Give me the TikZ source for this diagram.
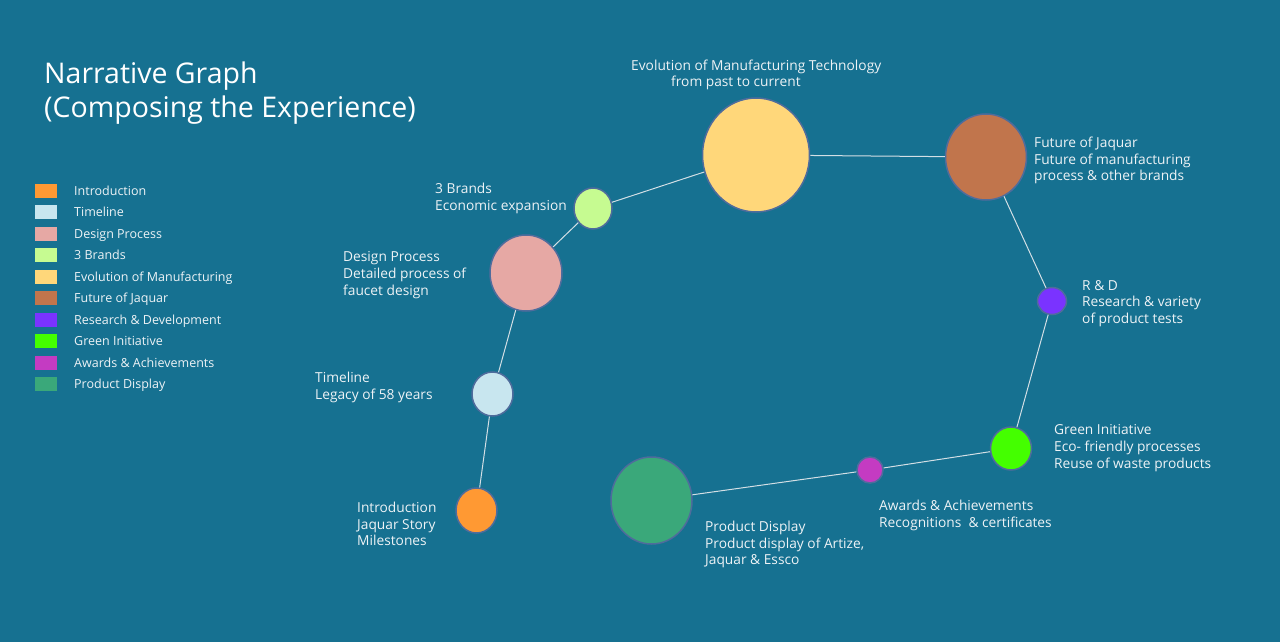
\documentclass[tikz,border=0pt]{standalone}
\usepackage{fontspec}
\setmainfont{Open Sans}
\usetikzlibrary{shapes.geometric}
\definecolor{bgc}{HTML}{167191}
\definecolor{txtc}{HTML}{EEF3F6}
\definecolor{edgec}{HTML}{D3DFE5}
\definecolor{rimc}{HTML}{4F6C9C}
\definecolor{cIntro}{HTML}{FF9933}
\definecolor{cTime}{HTML}{C8E6EF}
\definecolor{cDesign}{HTML}{E6A8A4}
\definecolor{cBrands}{HTML}{C6FB91}
\definecolor{cEvol}{HTML}{FFD77A}
\definecolor{cFuture}{HTML}{C1754C}
\definecolor{cRD}{HTML}{7A33FF}
\definecolor{cGreen}{HTML}{44FF00}
\definecolor{cAwards}{HTML}{C43BC2}
\definecolor{cProd}{HTML}{3AA87A}
\tikzset{
  bubble/.style={ellipse, draw=rimc, line width=1.5pt, inner sep=0pt},
  lbl/.style={anchor=west, inner sep=0pt, align=left, text=txtc, font=\fontsize{13.75}{16.7}\selectfont},
  legtxt/.style={anchor=base west, inner sep=0pt, text=txtc, font=\fontsize{12.5}{15}\selectfont},
  legbox/.style={rectangle, inner sep=0pt, minimum width=22pt, minimum height=14pt},
  link/.style={draw=edgec, line width=1pt}
}
\begin{document}
\begin{tikzpicture}[x=1pt,y=-1pt]
\fill[bgc] (0,0) rectangle (1280,642);
\useasboundingbox (0,0) rectangle (1280,642);
% title
\node[anchor=north west, inner sep=0pt, align=left, text=white, font=\fontsize{28.5}{34}\selectfont] (title) at (44,62) {Narrative Graph\\(Composing the Experience)};
% legend
\foreach \c/\t [count=\i] in {cIntro/Introduction, cTime/Timeline, cDesign/Design Process, cBrands/3 Brands, cEvol/Evolution of Manufacturing, cFuture/Future of Jaquar, cRD/Research \& Development, cGreen/Green Initiative, cAwards/Awards \& Achievements, cProd/Product Display}{
  \node[legbox, fill=\c] (lb\i) at (46, {191+(\i-1)*21.45}) {};
  \node[legtxt] (lt\i) at (74, {195.5+(\i-1)*21.45}) {\t};
}
% bubbles
\node[bubble, fill=cIntro, minimum width=41pt, minimum height=45pt] (intro) at (476.5,510.5) {};
\node[bubble, fill=cTime, minimum width=41pt, minimum height=44pt] (time) at (492.5,394) {};
\node[bubble, fill=cDesign, minimum width=72pt, minimum height=76pt] (design) at (526,273) {};
\node[bubble, fill=cBrands, minimum width=38pt, minimum height=41pt] (brands) at (593,208.5) {};
\node[bubble, fill=cEvol, minimum width=107pt, minimum height=114pt] (evol) at (756,155) {};
\node[bubble, fill=cFuture, minimum width=81pt, minimum height=86pt] (future) at (986,157) {};
\node[bubble, fill=cRD, minimum width=29pt, minimum height=27pt] (rd) at (1052,301) {};
\node[bubble, fill=cGreen, minimum width=41pt, minimum height=43pt] (green) at (1011,448.5) {};
\node[bubble, fill=cAwards, minimum width=26pt, minimum height=26pt] (awards) at (870,470) {};
\node[bubble, fill=cProd, minimum width=81pt, minimum height=87pt] (prod) at (651.5,500.5) {};
% links
\draw[link] (intro) -- (time);
\draw[link] (time) -- (design);
\draw[link] (design) -- (brands);
\draw[link] (brands) -- (evol);
\draw[link] (evol) -- (future);
\draw[link] (future) -- (rd);
\draw[link] (rd) -- (green);
\draw[link] (green) -- (awards);
\draw[link] (awards) -- (prod);
% labels
\node[lbl] (levol) at (631,75) {Evolution of Manufacturing Technology\\\hspace*{40pt}from past to current};
\node[lbl] (lfuture) at (1034,160.5) {Future of Jaquar\\Future of manufacturing\\process \& other brands};
\node[lbl] (lrd) at (1082,303.5) {R \& D\\Research \& variety\\of product tests};
\node[lbl] (lgreen) at (1054,448) {Green Initiative\\Eco- friendly processes\\Reuse of waste products};
\node[lbl] (lawards) at (879,515.5) {Awards \& Achievements\\Recognitions\ \ \& certificates};
\node[lbl] (lprod) at (705,544.5) {Product Display\\Product display of Artize,\\Jaquar \& Essco};
\node[lbl] (lintro) at (357,524) {Introduction\\Jaquar Story\\Milestones};
\node[lbl] (ltime) at (315,387.5) {Timeline\\Legacy of 58 years};
\node[lbl] (ldesign) at (343,275) {Design Process\\Detailed process of\\faucet design};
\node[lbl] (lbrands) at (435,198.5) {3 Brands\\Economic expansion};
\end{tikzpicture}
\end{document}
